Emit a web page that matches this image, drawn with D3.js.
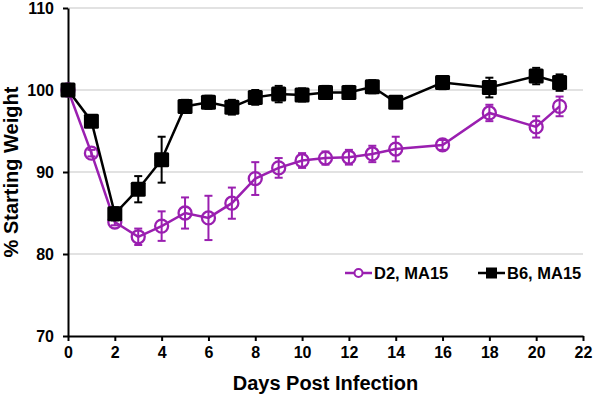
<!DOCTYPE html>
<html>
<head>
<meta charset="utf-8">
<script src="https://cdn.jsdelivr.net/npm/d3@7"></script>
<style>
  body { margin: 0; background: #fff; }
  text { font-family: "Liberation Sans", Arial, sans-serif; font-weight: bold; }
</style>
</head>
<body>
<div id="chart"></div>
<script>
// dados
const days = [0, 1, 2, 3, 4, 5, 6, 7, 8, 9, 10, 11, 12, 13, 14, 16, 18, 20, 21];
const d2Mean = [100, 92.3, 83.9, 82.1, 83.4, 85.0, 84.4, 86.2, 89.2, 90.5, 91.4, 91.7, 91.8, 92.2, 92.8, 93.3, 97.2, 95.5, 98.0];
const d2Err  = [0.3, 0.4, 0.4, 1.0, 1.8, 1.9, 2.7, 1.9, 2.0, 1.2, 0.9, 0.8, 0.9, 1.0, 1.5, 0.6, 1.0, 1.3, 1.2];
const b6Mean = [100, 96.2, 84.9, 87.9, 91.5, 98.0, 98.5, 97.9, 99.1, 99.5, 99.4, 99.7, 99.7, 100.4, 98.5, 100.9, 100.3, 101.7, 100.9];
const b6Err  = [0.3, 0.5, 0.8, 1.6, 2.8, 0.8, 0.8, 0.9, 0.9, 1.0, 0.8, 0.8, 0.8, 0.8, 0.7, 0.8, 1.2, 1.0, 1.0];
const xTicks = d3.range(0, 23, 2);
const yTicks = [70, 80, 90, 100, 110];

const PURPLE = '#9a1fb0';
const BLACK = '#000';

const width = 598, height = 396;
const margin = { top: 8, right: 15, bottom: 60, left: 68 };

const svg = d3.select('#chart').append('svg')
  .attr('width', width)
  .attr('height', height);

const x = d3.scaleLinear().domain([0, 22]).range([margin.left, width - margin.right]);
const y = d3.scaleLinear().domain([70, 110]).range([height - margin.bottom, margin.top]);

// linhas de grade
svg.append('g')
  .selectAll('line')
  .data(yTicks.filter(t => t > 70))
  .enter()
  .append('line')
  .attr('x1', x(0)).attr('x2', x(22))
  .attr('y1', d => y(d)).attr('y2', d => y(d))
  .attr('stroke', '#d9d9d9')
  .attr('stroke-width', 1.5);

// eixos
const xAxis = svg.append('g')
  .attr('transform', `translate(0,${y(70)})`)
  .call(d3.axisBottom(x).tickValues(xTicks).tickSize(5).tickSizeOuter(0).tickPadding(6));
const yAxis = svg.append('g')
  .attr('transform', `translate(${x(0)},0)`)
  .call(d3.axisLeft(y).tickValues(yTicks).tickSize(5).tickSizeOuter(0).tickPadding(9));

[xAxis, yAxis].forEach(a => {
  a.select('.domain').attr('stroke', '#000').attr('stroke-width', 2);
  a.selectAll('.tick line').attr('stroke', '#000').attr('stroke-width', 2);
  a.selectAll('.tick text').attr('font-size', '16px').attr('fill', '#000')
    .attr('font-family', '"Liberation Sans", Arial, sans-serif').attr('font-weight', 'bold');
});

// títulos dos eixos
svg.append('text')
  .attr('x', (x(0) + x(22)) / 2)
  .attr('y', 390)
  .attr('text-anchor', 'middle')
  .attr('font-size', '20px')
  .text('Days Post Infection');

svg.append('text')
  .attr('transform', `translate(18,${y(90)}) rotate(-90)`)
  .attr('text-anchor', 'middle')
  .attr('font-size', '20px')
  .text('% Starting Weight');

function drawSeries(mean, err, color, marker) {
  const pts = days.map((d, i) => ({ day: d, v: mean[i], e: err[i] }));
  const g = svg.append('g');

  g.append('path')
    .datum(pts)
    .attr('fill', 'none')
    .attr('stroke', color)
    .attr('stroke-width', 2.5)
    .attr('d', d3.line().x(d => x(d.day)).y(d => y(d.v)));

  const eb = g.append('g').selectAll('g').data(pts).enter().append('g')
    .attr('stroke', color).attr('stroke-width', 2);
  eb.append('line')
    .attr('x1', d => x(d.day)).attr('x2', d => x(d.day))
    .attr('y1', d => y(d.v - d.e)).attr('y2', d => y(d.v + d.e));
  [-1, 1].forEach(s => {
    eb.append('line')
      .attr('x1', d => x(d.day) - 4).attr('x2', d => x(d.day) + 4)
      .attr('y1', d => y(d.v + s * d.e)).attr('y2', d => y(d.v + s * d.e));
  });

  if (marker === 'circle') {
    g.append('g').selectAll('circle').data(pts).enter().append('circle')
      .attr('cx', d => x(d.day)).attr('cy', d => y(d.v))
      .attr('r', 6.5)
      .attr('fill', 'none')
      .attr('stroke', color)
      .attr('stroke-width', 2.3);
  } else {
    g.append('g').selectAll('rect').data(pts).enter().append('rect')
      .attr('x', d => x(d.day) - 7.5).attr('y', d => y(d.v) - 7.5)
      .attr('width', 15).attr('height', 15)
      .attr('rx', 1.5)
      .attr('fill', color);
  }
}

drawSeries(d2Mean, d2Err, PURPLE, 'circle');
drawSeries(b6Mean, b6Err, BLACK, 'square');

// legenda
const legendItems = [
  { label: 'D2, MA15', color: PURPLE, marker: 'circle', x0: 345 },
  { label: 'B6, MA15', color: BLACK, marker: 'square', x0: 478 }
];
const ly = 273;
legendItems.forEach(it => {
  const lg = svg.append('g');
  lg.append('line')
    .attr('x1', it.x0).attr('x2', it.x0 + 27)
    .attr('y1', ly).attr('y2', ly)
    .attr('stroke', it.color).attr('stroke-width', 2.5);
  if (it.marker === 'circle') {
    lg.append('circle').attr('cx', it.x0 + 13.5).attr('cy', ly).attr('r', 4)
      .attr('fill', '#fff').attr('stroke', it.color).attr('stroke-width', 2);
  } else {
    lg.append('rect').attr('x', it.x0 + 8).attr('y', ly - 5.5)
      .attr('width', 11).attr('height', 11).attr('fill', it.color);
  }
  lg.append('text')
    .attr('x', it.x0 + 29)
    .attr('y', ly + 6)
    .attr('font-size', '16.5px')
    .attr('fill', '#000')
    .text(it.label);
});
</script>
</body>
</html>
